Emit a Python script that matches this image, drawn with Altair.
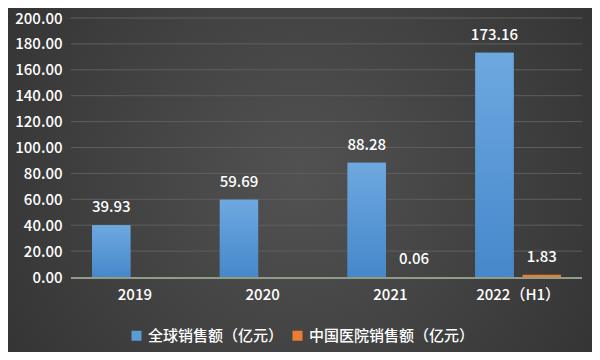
import altair as alt
import pandas as pd

categories = ["2019", "2020", "2021", "2022（H1）"]
series_names = ["全球销售额（亿元）", "中国医院销售额（亿元）"]
global_sales = [39.93, 59.69, 88.28, 173.16]
china_sales = [None, None, 0.06, 1.83]
y_ticks = [0, 20, 40, 60, 80, 100, 120, 140, 160, 180, 200]
series_colors = ["#5b9bd5", "#ed7d31"]

rows = []
for c, g, h in zip(categories, global_sales, china_sales):
    rows.append({"cat": c, "series": series_names[0], "value": g})
    if h is not None:
        rows.append({"cat": c, "series": series_names[1], "value": h})
df = pd.DataFrame(rows)
grid_df = pd.DataFrame({"t": y_ticks[1:]})
base_df = pd.DataFrame({"t": [y_ticks[0]]})

W, H = 511, 259
PL, PT, PR, PB = 63, 10, 10, 75
FONT = "Noto Sans CJK SC"
FW = 500

yscale = alt.Scale(domain=[0, 200])
xscale = alt.Scale(domain=categories, paddingInner=0.33, paddingOuter=0.165)
yaxis = alt.Axis(title=None, values=y_ticks, format=".2f", grid=False, domain=False,
                 ticks=False, labelColor="#ffffff", labelFontSize=15, labelFont=FONT,
                 labelFontWeight=FW, labelPadding=9, zindex=2)

bg = alt.Chart(pd.DataFrame({"a": [0]})).mark_rect(
    clip=False,
    color=alt.RadialGradient(
        gradient="radial",
        x1=0.5, y1=0.5, x2=0.5, y2=0.5, r1=0, r2=0.75,
        stops=[alt.GradientStop(offset=0, color="#525252"),
               alt.GradientStop(offset=1, color="#2c2c2c")],
    ),
).encode(
    x=alt.value(-PL), x2=alt.value(W + PR),
    y=alt.value(-PT), y2=alt.value(H + PB),
)

grid = alt.Chart(grid_df).mark_rule(color="#5e5e5e", strokeWidth=1).encode(
    y=alt.Y("t:Q", scale=yscale, axis=yaxis),
    x=alt.value(0), x2=alt.value(W),
)

baseline = alt.Chart(base_df).mark_rule(color="#8d9d86", strokeWidth=2, yOffset=1).encode(
    y=alt.Y("t:Q", scale=yscale, axis=yaxis),
    x=alt.value(0), x2=alt.value(W),
)

base = alt.Chart(df).encode(
    x=alt.X("cat:N", scale=xscale, sort=categories,
            axis=alt.Axis(title=None, labelAngle=0, labelColor="#ffffff", labelFontSize=15,
                          labelFont=FONT, labelFontWeight=FW, labelPadding=10, ticks=False,
                          domain=False, zindex=2)),
    xOffset=alt.XOffset("series:N", sort=series_names,
                        scale=alt.Scale(paddingInner=0.19, paddingOuter=0)),
    y=alt.Y("value:Q", scale=yscale, axis=yaxis),
)

bars_all = base.mark_bar().encode(
    color=alt.Color("series:N", sort=series_names,
                    scale=alt.Scale(domain=series_names, range=series_colors),
                    legend=alt.Legend(title=None, orient="none", legendX=58, legendY=H + 51,
                                      direction="horizontal", symbolType="square",
                                      symbolSize=100, symbolStrokeWidth=0,
                                      labelColor="#ffffff", labelFontSize=15, labelFont=FONT,
                                      labelFontWeight=FW, labelLimit=400,
                                      columnPadding=6, labelOffset=4)),
)

bars_blue = base.transform_filter(alt.datum.series == series_names[0]).mark_bar(
    color=alt.LinearGradient(
        gradient="linear", x1=0, x2=0, y1=0, y2=1,
        stops=[alt.GradientStop(offset=0, color="#6ea8e0"),
               alt.GradientStop(offset=1, color="#4588cb")],
    )
)

labels = base.mark_text(dy=-10, baseline="bottom", color="#ffffff", fontSize=15,
                        font=FONT, fontWeight=FW).encode(
    text=alt.Text("value:Q", format=".2f"),
)

chart = alt.layer(bg, grid, baseline, bars_all, bars_blue, labels).properties(
    width=W, height=H,
    padding={"left": PL, "top": PT, "right": PR, "bottom": PB},
    autosize=alt.AutoSizeParams(type="none"),
    background="#3a3a3a",
).configure_view(stroke=None)

chart.save("out.html", embed_options={"renderer": "svg", "actions": False})
